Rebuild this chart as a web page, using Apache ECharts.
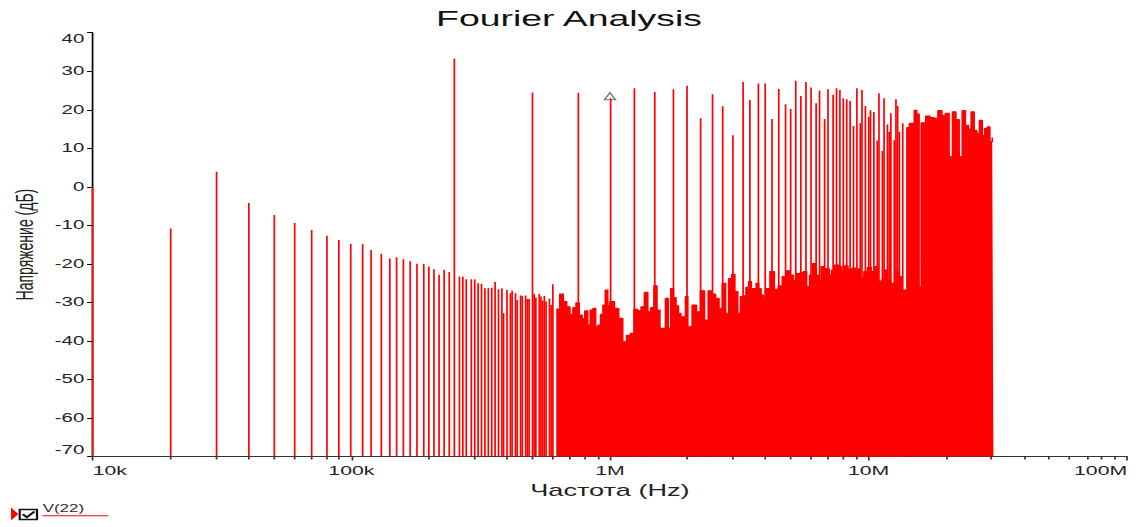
<!DOCTYPE html>
<html>
<head>
<meta charset="utf-8">
<title>Fourier Analysis</title>
<script src="https://cdn.jsdelivr.net/npm/echarts@6/dist/echarts.min.js"></script>
<style>
  html, body { margin: 0; padding: 0; background: #fff; }
  #frame { width: 1138px; height: 527px; overflow: hidden; position: relative; background: #fff; }
  /* the plot is laid out on a narrow canvas and widened to the frame */
  #chart { width: 670px; height: 527px; transform: scaleX(1.698507); transform-origin: 0 0; }
</style>
</head>
<body>
<div id="frame"><div id="chart"></div></div>
<script>
// ---- spectrum of V(22) ----
// individual low-order harmonics (kHz, dB)
const lowFreqKHz = [
  10, 20, 30, 40, 50, 60, 70, 80, 90, 100, 110, 120, 130, 140, 150, 160, 170, 180, 190, 200, 210, 220, 230, 240,
  260, 270, 280, 290, 300, 310, 320, 330, 340, 350, 360, 370, 380, 390, 400, 410, 420, 430, 440, 450, 460, 470, 480, 490,
  510, 520, 530, 540, 550, 560, 570, 580, 590, 600
];
const lowDb = [
  0, -10.8, 3.9, -4.2, -7.3, -9.4, -11.2, -12.7, -13.8, -14.8, -14.8, -16.4, -17.4, -18.6, -18.3, -18.8, -19.3, -20.0, -20.0, -20.7, -21.4, -22.8, -21.6, -22.1,
  -23.3, -23.3, -24.0, -24.0, -24.0, -25.0, -25.2, -26.3, -26.3, -26.2, -24.7, -26.6, -26.3, -32.8, -26.8, -27.6, -27.0, -27.6, -29.4, -28.2, -28.3, -28.2, -29.1, -29.1,
  -27.8, -28.7, -27.8, -28.5, -29.5, -28.3, -29.8, -29.0, -30.7, -25.3
];

// strong components every 250 kHz (MHz, dB)
const spikeMHz = [
  0.25, 0.5, 0.75, 1.0, 1.25, 1.5, 1.75, 2.0, 2.25, 2.5, 2.75, 3.0, 3.25, 3.5, 3.75, 4.0, 4.25, 4.5, 4.75, 5.0,
  5.25, 5.5, 5.75, 6.0, 6.25, 6.5, 6.75, 7.0, 7.25, 7.5, 7.75, 8.0, 8.25, 8.5, 8.75, 9.0, 9.25, 9.5, 9.75, 10.0,
  10.25, 10.5, 10.75, 11.0, 11.25, 11.5, 11.75, 12.0, 12.25, 12.5, 12.75, 13.0, 13.25, 13.5
];
const spikeDb = [
  33.3, 24.5, 24.4, 23.0, 25.6, 24.6, 25.3, 26.2, 17.8, 24.0, 20.9, 13.4, 27.2, 22.5, 26.8, 26.8, 17.6, 25.4, 21.4, 20.2,
  27.5, 23.6, 27.2, 25.8, 21.7, 25.0, 17.6, 25.3, 23.9, 25.6, 25.1, 23.0, 22.7, 22.3, 15.8, 25.6, 16.5, 25.1, 21.0, 18.2,
  19.9, 19.4, 12.0, 24.3, 9.3, 23.0, 16.2, 14.3, 19.1, 12.1, 22.7, 21.0, 14.3, 16.5
];

// dense harmonic floor above 600 kHz (MHz, dB), each level holds up to the next frequency
const floorMHz = [
  0.62, 0.64, 0.66, 0.68, 0.70, 0.72, 0.74, 0.76, 0.78, 0.80, 0.82, 0.84, 0.86, 0.88, 0.90, 0.92, 0.94, 0.96, 0.98, 1.00,
  1.04, 1.08, 1.12, 1.16, 1.20, 1.24, 1.28, 1.32, 1.36, 1.40, 1.44, 1.48, 1.52, 1.56, 1.60, 1.64, 1.68, 1.72, 1.76, 1.80, 1.84, 1.88, 1.92, 1.96, 2.00,
  2.08, 2.16, 2.24, 2.32, 2.40, 2.48, 2.56, 2.64, 2.72, 2.80, 2.88, 2.96, 3.04, 3.12, 3.20, 3.28, 3.36, 3.44, 3.52, 3.60, 3.68, 3.76, 3.84, 3.92, 4.00,
  4.16, 4.32, 4.48, 4.64, 4.80, 4.96, 5.12, 5.28, 5.44, 5.60, 5.76, 5.92, 6.08, 6.24, 6.40, 6.56, 6.72, 6.88, 7.04, 7.20, 7.36, 7.52, 7.68, 7.84, 8.00,
  8.32, 8.64, 8.96, 9.28, 9.60, 9.92, 10.24, 10.56, 10.88, 11.20, 11.52, 11.84, 12.16, 12.48, 12.80, 13.12, 13.44, 13.76, 14.08, 14.40, 14.72, 15.04, 15.36, 15.68, 16.00,
  16.64, 17.28, 17.92, 18.56, 19.20, 19.84, 20.48, 21.12, 21.76, 22.40, 23.04, 23.68, 24.32, 24.96, 25.60, 26.24, 26.88, 27.52, 28.16, 28.80, 29.44, 30.08, 30.40
];
const floorDb = [
  -31.7, -27.8, -29.8, -31.1, -33.1, -31.3, -30.1, -33.3, -34.2, -32.2, -35.9, -32.0, -31.5, -36.3, -35.9, -33.1, -30.7, -26.8, -30.9, -29.8,
  -31.5, -34.1, -40.2, -38.5, -38.0, -31.8, -32.2, -31.1, -27.4, -32.4, -31.3, -25.7, -32.0, -36.7, -36.7, -28.9, -36.7, -26.4, -28.7, -30.9, -32.8, -33.7, -33.7, -28.5, -36.3,
  -30.7, -32.4, -27.0, -34.6, -27.0, -27.8, -28.9, -31.5, -25.0, -32.8, -23.8, -22.7, -27.2, -32.8, -28.5, -28.3, -26.1, -24.6, -26.4, -26.4, -25.0, -26.4, -28.1, -29.0, -26.4,
  -22.0, -26.6, -25.7, -23.3, -21.8, -22.9, -24.4, -22.5, -22.3, -22.0, -25.9, -22.9, -19.9, -22.9, -24.6, -20.7, -21.2, -21.2, -22.9, -21.6, -20.3, -20.3, -20.7, -22.0, -20.5,
  -21.4, -21.1, -21.3, -23.7, -22.0, -20.9, -22.0, -20.7, -24.6, -24.2, -21.6, -24.2, -25.0, -25.0, -22.0, -23.3, -26.8, -26.8, 15.4, 16.5, 16.6, 19.9, 18.9, -25.9, 16.6,
  18.4, 18.0, 17.8, 19.8, 18.6, 19.1, 7.8, 19.5, 17.5, 7.8, 19.8, 16.0, 15.0, 19.5, 14.6, 13.9, 17.3, 13.4, 15.2, 15.6, 11.7, 12.8, 12.8
];

// cursor sits on the 1 MHz component
const cursorMHz = 1.0;

// axis ticks
const freqTickHz = [1e4, 1e5, 1e6, 1e7, 1e8];
const freqTickLabels = ['10k', '100k', '1M', '10M', '100M'];
const minorDecadesHz = [1e4, 1e5, 1e6, 1e7];
const minorSteps = [2, 3, 4, 5, 6, 7, 8, 9];

const DB_MIN = -70, DB_MAX = 40, DB_STEP = 10;
const RED = '#ff0000';
const FONT = "'Liberation Sans', Arial, sans-serif";

const lowData = lowFreqKHz.map((k, i) => [k * 1e3, lowDb[i]]);
const spikeData = spikeMHz.map((m, i) => [m * 1e6, spikeDb[i]]);
const floorData = floorMHz.map((m, i) => [m * 1e6, floorDb[i]]);
const cursorData = [[cursorMHz * 1e6, spikeDb[spikeMHz.indexOf(cursorMHz)]]];
const minorTickData = [];
minorDecadesHz.forEach(d => minorSteps.forEach(s => minorTickData.push([d * s])));

function snap(x) { return Math.round(x - 0.5) + 0.5; }

// vertical line from the axis floor up to the level of one harmonic
function renderStem(params, api) {
  const f = api.value(0);
  const top = api.coord([f, api.value(1)]);
  const base = api.coord([f, DB_MIN]);
  const x = snap(top[0]);
  return {
    type: 'line',
    shape: { x1: x, y1: top[1], x2: x, y2: base[1] },
    style: { stroke: RED, lineWidth: 1 }
  };
}

// short decade subdivision marks below the frequency axis
function renderMinorTick(params, api) {
  const p = api.coord([api.value(0), DB_MIN]);
  const x = snap(p[0]);
  return {
    type: 'line',
    shape: { x1: x, y1: p[1], x2: x, y2: p[1] + 3 },
    style: { stroke: '#333', lineWidth: 1 }
  };
}

const chart = echarts.init(document.getElementById('chart'), null, { renderer: 'svg' });

chart.setOption({
  animation: false,
  backgroundColor: '#fff',
  title: {
    text: 'Fourier Analysis',
    left: 'center',
    top: 2,
    textStyle: { fontSize: 22, fontWeight: 'normal', color: '#111', fontFamily: FONT }
  },
  grid: { left: 54.6, right: 6.4, top: 32.7, bottom: 70.5, containLabel: false, outerBoundsMode: 'none' },
  xAxis: {
    type: 'log',
    logBase: 10,
    min: freqTickHz[0],
    max: freqTickHz[freqTickHz.length - 1],
    name: 'Частота (Hz)',
    nameLocation: 'middle',
    nameGap: 26,
    nameTextStyle: { fontSize: 16, color: '#222', fontFamily: FONT },
    axisLine: { show: true, onZero: false, lineStyle: { color: '#333', width: 1 } },
    axisTick: { show: true, length: 4, lineStyle: { color: '#333' } },
    minorTick: { show: false },
    splitLine: { show: false },
    axisLabel: {
      fontSize: 12.5,
      color: '#222',
      fontFamily: FONT,
      margin: 8,
      alignMinLabel: 'left',
      alignMaxLabel: 'right',
      formatter: v => {
        const i = freqTickHz.findIndex(t => Math.abs(t - v) / t < 1e-6);
        return i >= 0 ? freqTickLabels[i] : '';
      }
    }
  },
  yAxis: {
    type: 'value',
    min: DB_MIN,
    max: DB_MAX,
    interval: DB_STEP,
    name: 'Напряжение (дБ)',
    nameLocation: 'middle',
    nameGap: 33,
    nameTextStyle: { fontSize: 14, color: '#222', fontFamily: FONT },
    axisLine: { show: true, onZero: false, lineStyle: { color: '#000', width: 1 } },
    axisTick: { show: true, length: 3.3, lineStyle: { color: '#000' } },
    splitLine: { show: false },
    axisLabel: {
      fontSize: 12,
      color: '#222',
      fontFamily: FONT,
      margin: 5,
      verticalAlignMinLabel: 'bottom',
      verticalAlignMaxLabel: 'top'
    }
  },
  graphic: [
    { type: 'polygon', shape: { points: [[6.5, 507.5], [10.8, 514], [6.5, 520.5]] }, style: { fill: RED } },
    { type: 'rect', shape: { x: 11.6, y: 509.5, width: 10.2, height: 10 }, style: { fill: '#fff', stroke: '#111', lineWidth: 1.3 } },
    { type: 'polyline', shape: { points: [[13.4, 514.3], [15.8, 517.3], [20.3, 511.6]] }, style: { fill: null, stroke: '#111', lineWidth: 1.6 } },
    { type: 'text', x: 25.1, y: 508.3, style: { text: 'V(22)', fontSize: 10, fontFamily: FONT, fill: '#2a2a3a', verticalAlign: 'middle', align: 'left' } },
    { type: 'line', shape: { x1: 25.1, y1: 515.7, x2: 63.8, y2: 515.7 }, style: { stroke: RED, lineWidth: 1 } }
  ],
  series: [
    {
      name: 'V(22)',
      type: 'line',
      data: floorData,
      step: 'end',
      symbol: 'none',
      showSymbol: false,
      lineStyle: { color: RED, width: 1 },
      itemStyle: { color: RED },
      areaStyle: { color: RED, opacity: 1, origin: 'start' },
      z: 2,
      silent: true
    },
    {
      name: 'V(22) low',
      type: 'custom',
      data: lowData,
      renderItem: renderStem,
      clip: false,
      z: 3,
      silent: true
    },
    {
      name: 'V(22) peaks',
      type: 'custom',
      data: spikeData,
      renderItem: renderStem,
      clip: false,
      z: 3,
      silent: true
    },
    {
      name: 'cursor',
      type: 'scatter',
      data: cursorData,
      symbol: 'triangle',
      symbolSize: [6.5, 7],
      symbolOffset: [0, -2],
      itemStyle: { color: 'rgba(255,255,255,0)', borderColor: '#555', borderWidth: 1 },
      z: 5,
      silent: true
    },
    {
      name: 'minor ticks',
      type: 'custom',
      data: minorTickData,
      renderItem: renderMinorTick,
      clip: false,
      z: 1,
      silent: true
    }
  ]
});
</script>
</body>
</html>
